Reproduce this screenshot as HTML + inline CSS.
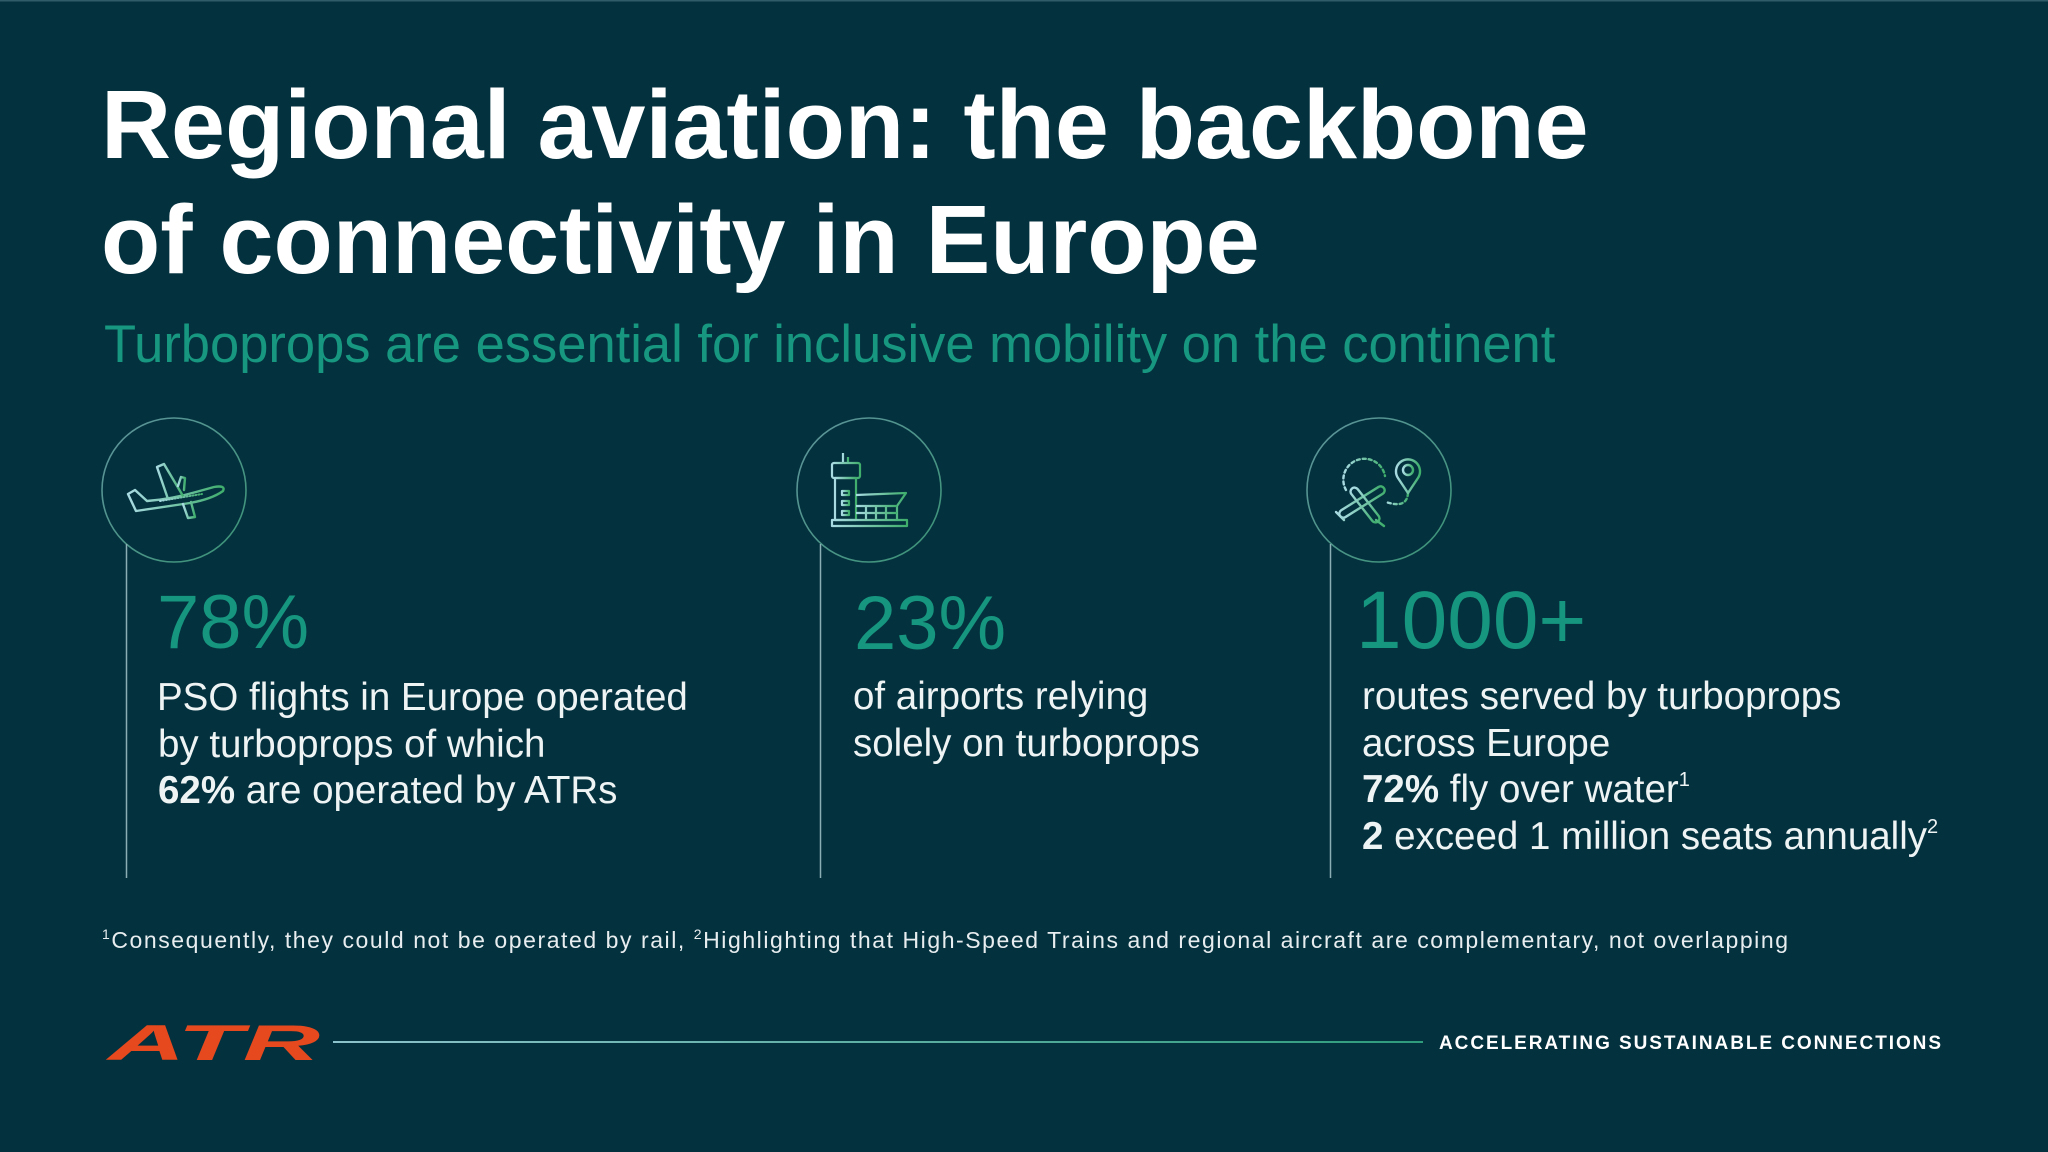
<!DOCTYPE html>
<html>
<head>
<meta charset="utf-8">
<style>
  html, body { margin:0; padding:0; background:#04313e; }
  body { width:2048px; height:1152px; overflow:hidden; }
  svg { display:block; }
  text { font-family: "Liberation Sans", "DejaVu Sans", sans-serif; }
</style>
</head>
<body>
<svg width="2048" height="1152" viewBox="0 0 2048 1152" xmlns="http://www.w3.org/2000/svg">
  <defs>
    <linearGradient id="ig" x1="0" y1="0" x2="1" y2="0">
      <stop offset="0" stop-color="#a9dbe3"/>
      <stop offset="1" stop-color="#3fae6c"/>
    </linearGradient>
    <linearGradient id="cg" x1="0" y1="0" x2="1" y2="1">
      <stop offset="0" stop-color="#5f949c"/>
      <stop offset="1" stop-color="#3a9476"/>
    </linearGradient>
    <linearGradient id="lg" gradientUnits="userSpaceOnUse" x1="333" y1="1042" x2="1423" y2="1042">
      <stop offset="0" stop-color="#8cc2cb"/>
      <stop offset="1" stop-color="#2f9c7c"/>
    </linearGradient>
  </defs>

  <rect x="0" y="0" width="2048" height="1152" fill="#04313e"/>
  <rect x="0" y="0" width="2048" height="1.5" fill="#2f5c68"/>

  <!-- Title -->
  <text x="101" y="158" font-size="97" font-weight="bold" fill="#ffffff">Regional aviation: the backbone</text>
  <text x="101" y="273" font-size="97" font-weight="bold" fill="#ffffff">of connectivity in Europe</text>

  <!-- Subtitle -->
  <text x="104" y="362" font-size="52.5" fill="#17977f">Turboprops are essential for inclusive mobility on the continent</text>

  <!-- Circles -->
  <circle cx="174" cy="490" r="72" fill="none" stroke="url(#cg)" stroke-width="1.6"/>
  <circle cx="869" cy="490" r="72" fill="none" stroke="url(#cg)" stroke-width="1.6"/>
  <circle cx="1379" cy="490" r="72" fill="none" stroke="url(#cg)" stroke-width="1.6"/>

  <!-- Vertical lines -->
  <line x1="126.5" y1="544" x2="126.5" y2="878" stroke="#8aaeb3" stroke-width="1.5"/>
  <line x1="820.5" y1="544" x2="820.5" y2="878" stroke="#8aaeb3" stroke-width="1.5"/>
  <line x1="1330.5" y1="544" x2="1330.5" y2="878" stroke="#8aaeb3" stroke-width="1.5"/>

  <!-- Icon 1: plane -->
  <g fill="none" stroke="url(#ig)" stroke-width="2.4" stroke-linejoin="round" stroke-linecap="round">
    <path d="M128,494 L135,490 L147,501 Q172,499 196,492 L214,487 Q226,485 223,491 Q212,499 190,503 L136,511 Z"/>
    <path d="M168,499 L157,467 L164,464 L183,496"/>
    <path d="M183,504 L188,518 L195,517 L191,502"/>
    <path d="M178,486 L181,477 L185,478 L184,490"/>
    <path d="M160,501 L202,494" stroke-width="2" stroke-dasharray="1 2"/>
  </g>

  <!-- Icon 2: tower & terminal -->
  <g fill="none" stroke="url(#ig)" stroke-width="2.2" stroke-linejoin="round">
    <path d="M843,463 L843,453 M848,463 L848,457"/>
    <rect x="832" y="463" width="28" height="15" rx="2"/>
    <path d="M833,470 L859,470"/>
    <rect x="835" y="478" width="21" height="42"/>
    <rect x="842" y="491" width="7" height="4"/>
    <rect x="842" y="501" width="7" height="4"/>
    <rect x="842" y="511" width="7" height="4"/>
    <path d="M856,495 L906,493 L897,506 L897,520"/>
    <path d="M856,506 L897,506 M856,513 L897,513 M866,506 L866,520 M876,506 L876,520 M886,506 L886,520"/>
    <rect x="832" y="520" width="75" height="6"/>
  </g>

  <!-- Icon 3: route -->
  <g fill="none" stroke="url(#ig)" stroke-width="2.4" stroke-linecap="round" stroke-linejoin="round">
    <path d="M1346,490 A21,21 0 1 1 1385,476" stroke-dasharray="3 3"/>
    <path d="M1408,493 Q1407,509 1386,502" stroke-dasharray="3 3"/>
    <path d="M1408,493 L1398,478 A12,12 0 1 1 1418,478 Z"/>
    <circle cx="1408" cy="470" r="5"/>
    <g transform="rotate(-32 1362 502)">
      <rect x="1336" y="498" width="52" height="8" rx="4"/>
    </g>
    <g transform="rotate(52 1365 505)">
      <rect x="1344" y="501" width="42" height="8" rx="4"/>
    </g>
    <path d="M1336,512 L1344,520 M1376,520 L1384,526"/>
  </g>

  <!-- Numbers -->
  <text x="157" y="648" font-size="76" fill="#16967f">78%</text>
  <text x="854" y="649" font-size="76" fill="#16967f">23%</text>
  <text x="1356" y="648" font-size="82" fill="#16967f">1000+</text>

  <!-- Column 1 body -->
  <g font-size="38.5" fill="#eef3f4">
    <text x="157" y="710">PSO flights in Europe operated</text>
    <text x="158" y="757">by turboprops of which</text>
    <text x="158" y="803"><tspan font-weight="bold">62%</tspan> are operated by ATRs</text>
  </g>

  <!-- Column 2 body -->
  <g font-size="38.5" fill="#eef3f4">
    <text x="853" y="709">of airports relying</text>
    <text x="853" y="756">solely on turboprops</text>
  </g>

  <!-- Column 3 body -->
  <g font-size="38.5" fill="#eef3f4">
    <text x="1362" y="709">routes served by turboprops</text>
    <text x="1362" y="756">across Europe</text>
    <text x="1362" y="802"><tspan font-weight="bold">72%</tspan> fly over water<tspan font-size="20" dy="-16">1</tspan></text>
    <text x="1362" y="849"><tspan font-weight="bold">2</tspan> exceed 1 million seats annually<tspan font-size="20" dy="-16">2</tspan></text>
  </g>

  <!-- Footnote -->
  <text x="102" y="948" font-size="23" fill="#e8eef0" textLength="1686" lengthAdjust="spacing"><tspan font-size="14" dy="-9">1</tspan><tspan dy="9">Consequently, they could not be operated by rail, </tspan><tspan font-size="14" dy="-9">2</tspan><tspan dy="9">Highlighting that High-Speed Trains and regional aircraft are complementary, not overlapping</tspan></text>

  <!-- Footer -->
  <text x="108" y="1060" font-size="50" font-weight="bold" font-style="italic" fill="#e5491d" textLength="212" lengthAdjust="spacingAndGlyphs">ATR</text>
  <rect x="333" y="1041" width="1090" height="2" fill="url(#lg)"/>
  <text x="1439" y="1049" font-size="19" font-weight="bold" fill="#ffffff" textLength="502" lengthAdjust="spacing">ACCELERATING SUSTAINABLE CONNECTIONS</text>
</svg>
</body>
</html>
